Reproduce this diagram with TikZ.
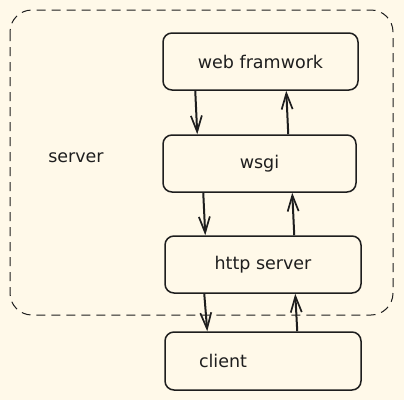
\documentclass[tikz,border=0pt]{standalone}
\usepackage{fontspec}
\setmainfont{DejaVu Sans}
\usetikzlibrary{arrows.meta,calc}
\definecolor{bg}{HTML}{FFF9E9}
\definecolor{ink}{HTML}{1E1E1E}
\tikzset{
  lbl/.style={font=\fontsize{17.5}{20}\selectfont, text=ink},
  box/.style={lbl, draw=ink, line width=1.5pt, rounded corners=9pt, minimum width=195pt, minimum height=57pt, inner sep=0pt},
  flow/.style={draw=ink, line width=2pt, -{Straight Barb[length=16pt,width=11pt,line width=1.7pt]}},
  group/.style={draw=ink, line width=1pt, dash pattern=on 9pt off 6pt, rounded corners=22pt}
}
\begin{document}
\begin{tikzpicture}[x=1pt,y=-1pt]
\fill[bg] (0,0) rectangle (404,400);
\useasboundingbox (0,0) rectangle (404,400);
\draw[group] (10,10) rectangle (393,315);
\node[lbl] (srv) at (76,158) {server};
\node[box] (wf) at (260.5,61.5) {web framwork};
\node[box, minimum width=193pt] (wsgi) at (259.5,163.5) {wsgi};
\node[box, minimum width=196pt] (http) at (263,264.5) {http server};
\node[box, text width=128pt, inner xsep=34pt, align=left, minimum height=58pt] (cl) at (263,361) {client};
\draw[flow] ([xshift=33pt]wf.south west) -- ([xshift=35pt]wsgi.north west);
\draw[flow] ([xshift=126pt]wsgi.north west) -- ([xshift=124pt]wf.south west);
\draw[flow] ([xshift=41pt]wsgi.south west) -- ([xshift=41pt]http.north west);
\draw[flow] ([xshift=130pt]http.north west) -- ([xshift=130pt]wsgi.south west);
\draw[flow] ([xshift=40pt]http.south west) -- ([xshift=43pt]cl.north west);
\draw[flow] ([xshift=133pt]cl.north west) -- ([xshift=131pt]http.south west);
\end{tikzpicture}
\end{document}
